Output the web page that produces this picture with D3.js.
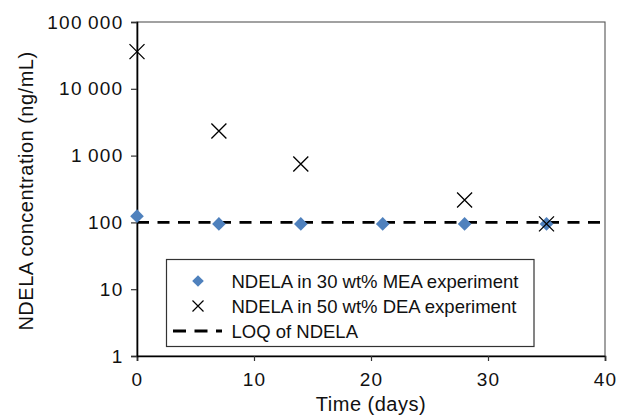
<!DOCTYPE html>
<html>
<head>
<meta charset="utf-8">
<script src="https://cdn.jsdelivr.net/npm/d3@7/dist/d3.min.js"></script>
<style>
  html, body { margin: 0; padding: 0; background: #fff; }
  svg { display: block; font-family: "Liberation Sans", Arial, sans-serif; }
</style>
</head>
<body>
<svg id="chart" width="622" height="420"></svg>
<script>
// Sampling days and NDELA concentrations (ng/mL)
const meaDays = [0, 7, 14, 21, 28, 35];
const meaValues = [124, 95, 95, 95, 95, 95];
const deaDays = [0, 7, 14, 28, 35];
const deaValues = [36000, 2330, 750, 216, 95];
const loqValue = 100;

const xTicks = [0, 10, 20, 30, 40];
const yTicks = [1, 10, 100, 1000, 10000, 100000];
const yTickLabels = ["1", "10", "100", "1\u2009000", "10\u2009000", "100\u2009000"];

const legendLabels = [
  "NDELA in 30 wt% MEA experiment",
  "NDELA in 50 wt% DEA experiment",
  "LOQ of NDELA"
];

const margin = { left: 137, right: 17, top: 22, bottom: 64 };
const W = 622, H = 420;
const svg = d3.select("#chart");

const x = d3.scaleLinear().domain([0, 40]).range([margin.left, W - margin.right]);
const y = d3.scaleLog().domain([1, 100000]).range([H - margin.bottom, margin.top]);

// plot frame: top and right edges
svg.append("rect")
  .attr("x", x(0)).attr("y", y(100000))
  .attr("width", x(40) - x(0)).attr("height", y(1) - y(100000))
  .attr("fill", "none").attr("stroke", "#555").attr("stroke-width", 1.1);

// axes
const xAxis = svg.append("g")
  .attr("transform", `translate(0,${y(1)})`)
  .call(d3.axisBottom(x).tickValues(xTicks).tickSize(5).tickPadding(12).tickFormat(d3.format("d")));
const yAxis = svg.append("g")
  .attr("transform", `translate(${x(0)},0)`)
  .call(d3.axisLeft(y).tickValues(yTicks).tickSize(6).tickPadding(7.5)
    .tickFormat((d, i) => yTickLabels[i]));

[xAxis, yAxis].forEach(g => {
  g.select(".domain").attr("stroke", "#000").attr("stroke-width", 1.6);
  g.selectAll(".tick line").attr("stroke", "#333").attr("stroke-width", 1.2);
  g.selectAll(".tick text").attr("fill", "#111")
    .style("font-size", "19px").style("letter-spacing", "1.3px")
    .style("font-family", "'Liberation Sans', Arial, sans-serif");
});

// LOQ reference line
svg.append("line")
  .attr("x1", x(0)).attr("x2", x(40))
  .attr("y1", y(loqValue)).attr("y2", y(loqValue))
  .attr("stroke", "#000").attr("stroke-width", 2.8)
  .attr("stroke-dasharray", "12,8.5");

// MEA diamonds
const diamond = (cx, cy, r) => `M${cx},${cy - r}L${cx + r},${cy}L${cx},${cy + r}L${cx - r},${cy}Z`;
svg.append("g").selectAll("path")
  .data(meaDays.map((d, i) => [d, meaValues[i]]))
  .join("path")
  .attr("d", d => diamond(x(d[0]), y(d[1]), 6.8))
  .attr("fill", "#4F81BD");

// DEA crosses
const cross = (cx, cy, r) => `M${cx - r},${cy - r}L${cx + r},${cy + r}M${cx - r},${cy + r}L${cx + r},${cy - r}`;
svg.append("g").selectAll("path")
  .data(deaDays.map((d, i) => [d, deaValues[i]]))
  .join("path")
  .attr("d", d => cross(x(d[0]), y(d[1]), 7.5))
  .attr("fill", "none").attr("stroke", "#000").attr("stroke-width", 1.3);

// axis titles
svg.append("text")
  .attr("x", x(20)).attr("y", 411)
  .attr("text-anchor", "middle")
  .style("font-size", "20px").style("letter-spacing", "0.5px").attr("fill", "#111")
  .text("Time (days)");
svg.append("text")
  .attr("transform", "translate(33,191) rotate(-90)")
  .attr("text-anchor", "middle")
  .style("font-size", "20px").style("letter-spacing", "0.5px").attr("fill", "#111")
  .text("NDELA concentration (ng/mL)");

// legend
const lg = svg.append("g");
lg.append("rect")
  .attr("x", 166.5).attr("y", 259.5).attr("width", 367.5).attr("height", 87)
  .attr("fill", "#fff").attr("stroke", "#333").attr("stroke-width", 1.2);
const rowY = [281, 306, 331];
lg.append("path").attr("d", diamond(198, rowY[0], 5.8)).attr("fill", "#4F81BD");
lg.append("path").attr("d", cross(198, rowY[1], 5.5))
  .attr("stroke", "#000").attr("stroke-width", 1.2).attr("fill", "none");
lg.append("line").attr("x1", 173).attr("x2", 222).attr("y1", rowY[2]).attr("y2", rowY[2])
  .attr("stroke", "#000").attr("stroke-width", 2.8).attr("stroke-dasharray", "13,8.5");
lg.selectAll("text.lbl")
  .data(legendLabels)
  .join("text")
  .attr("class", "lbl")
  .attr("x", 231.5).attr("y", (d, i) => rowY[i])
  .attr("dy", "0.36em")
  .style("font-size", "18.5px").attr("fill", "#111")
  .text(d => d);
</script>
</body>
</html>
